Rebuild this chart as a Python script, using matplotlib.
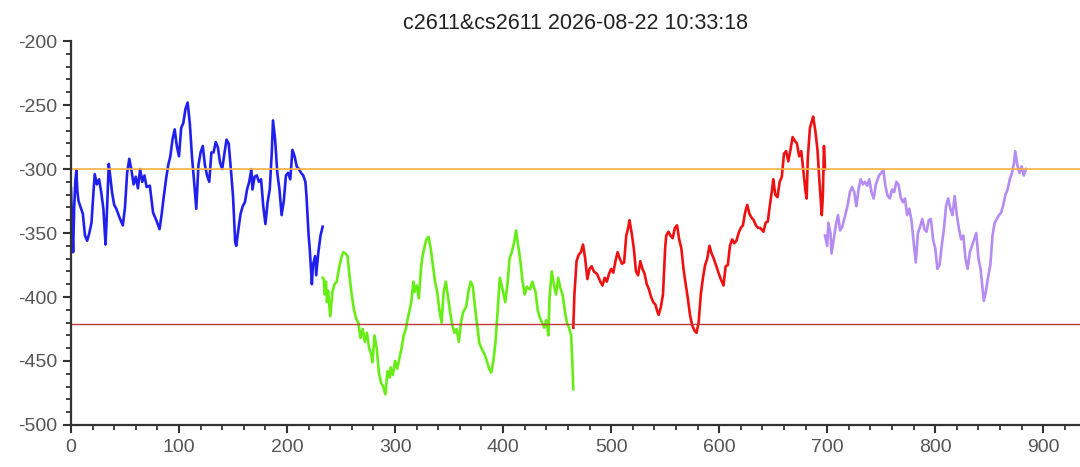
import matplotlib
matplotlib.use("Agg")
import matplotlib.pyplot as plt
from matplotlib.ticker import MultipleLocator

plt.rcParams["font.family"] = ["Liberation Sans", "DejaVu Sans"]
plt.rcParams["axes.unicode_minus"] = False

TITLE = "c2611&cs2611 2026-08-22 10:33:18"
UPPER = -300
LOWER = -421

# spread series, split in four coloured pieces
blue_x = [0, 1, 2, 3, 4, 5, 6, 7, 9, 11, 13, 15, 17, 19, 21, 22, 24, 26, 28, 30,
          32, 33, 35, 36, 38, 40, 42, 45, 48, 50, 52, 54, 56, 58, 60, 62, 64, 66,
          68, 70, 73, 76, 79, 82, 84, 86, 88, 90, 92, 94, 96, 98, 100, 102, 104,
          106, 108, 110, 112, 114, 116, 118, 120, 122, 124, 126, 128, 130, 132,
          134, 136, 138, 140, 142, 144, 146, 148, 150, 152, 153, 155, 157, 159,
          161, 163, 165, 167, 168, 170, 172, 174, 176, 178, 180, 182, 184, 186,
          187, 189, 191, 193, 195, 197, 199, 201, 203, 205, 207, 209, 211, 213,
          215, 217, 218, 220, 221, 223, 224, 226, 227, 229, 231, 233]
blue_y = [-315, -340, -365, -330, -310, -301, -318, -325, -330, -335, -352, -356,
          -350, -342, -316, -304, -312, -308, -318, -331, -359, -340, -296, -303,
          -318, -328, -331, -338, -344, -330, -303, -292, -301, -312, -306, -315,
          -300, -310, -305, -314, -313, -334, -340, -347, -335, -321, -308, -297,
          -290, -277, -269, -282, -290, -268, -264, -253, -248, -264, -290, -310,
          -331, -297, -287, -282, -297, -305, -310, -287, -287, -279, -283, -295,
          -300, -288, -277, -280, -300, -321, -357, -360, -347, -335, -329, -326,
          -316, -310, -300, -316, -306, -305, -310, -308, -329, -343, -326, -316,
          -285, -262, -277, -303, -316, -336, -325, -305, -303, -308, -285, -290,
          -298, -300, -303, -305, -310, -321, -352, -362, -390, -375, -368, -383,
          -365, -352, -345]

green_x = [233, 234, 235, 236, 237, 238, 240, 242, 244, 246, 248, 250, 252, 254,
           256, 258, 260, 262, 264, 266, 268, 270, 272, 274, 276, 278, 279, 281,
           283, 285, 287, 289, 291, 293, 295, 296, 298, 300, 302, 304, 306, 308,
           310, 311, 313, 315, 317, 318, 320, 322, 324, 325, 327, 329, 331, 333,
           335, 337, 339, 341, 343, 345, 347, 349, 351, 353, 355, 357, 359, 361,
           363, 366, 368, 370, 372, 374, 376, 378, 381, 383, 385, 387, 389, 391,
           393, 395, 397, 399, 402, 404, 406, 408, 410, 412, 414, 416, 418, 420,
           422, 425, 427, 430, 432, 434, 436, 438, 440, 442, 443, 445, 447, 449,
           451, 453, 455, 457, 459, 461, 463, 464, 465]
green_y = [-385, -386, -398, -388, -404, -395, -415, -396, -390, -388, -378, -370,
           -365, -366, -368, -385, -399, -410, -417, -420, -432, -425, -435, -428,
           -440, -445, -451, -430, -440, -459, -467, -470, -476, -458, -463, -455,
           -461, -450, -456, -448, -440, -430, -425, -420, -412, -404, -388, -396,
           -391, -401, -378, -370, -362, -355, -353, -362, -375, -388, -396, -410,
           -420, -396, -388, -400, -412, -422, -428, -425, -435, -420, -412, -407,
           -395, -388, -392, -408, -422, -436, -442, -445, -450, -456, -459, -450,
           -435, -410, -385, -392, -404, -390, -370, -365, -358, -348, -360, -372,
           -388, -398, -392, -394, -388, -396, -410, -416, -420, -424, -418, -430,
           -400, -380, -390, -398, -385, -393, -398, -410, -420, -424, -430, -450,
           -472]

red_x = [465, 466, 468, 470, 472, 474, 476, 478, 480, 482, 484, 487, 490, 492,
         494, 496, 498, 500, 502, 504, 506, 508, 510, 512, 514, 516, 517, 519,
         521, 523, 525, 527, 529, 531, 533, 535, 537, 539, 541, 543, 544, 546,
         548, 550, 551, 553, 555, 557, 559, 561, 563, 565, 567, 569, 571, 573,
         575, 577, 579, 581, 583, 585, 587, 589, 591, 593, 595, 597, 599, 601,
         604, 606, 608, 610, 612, 614, 616, 618, 620, 622, 624, 626, 628, 630,
         632, 634, 636, 638, 641, 643, 645, 647, 649, 650, 652, 654, 656, 658,
         660, 662, 664, 666, 668, 670, 672, 674, 676, 678, 680, 681, 682, 684,
         686, 687, 689, 691, 693, 695, 696, 697, 698]
red_y = [-424, -398, -372, -367, -365, -359, -370, -386, -378, -376, -380, -382,
         -388, -391, -385, -388, -382, -378, -381, -372, -365, -370, -374, -373,
         -352, -345, -340, -350, -362, -380, -383, -372, -378, -382, -390, -394,
         -400, -404, -406, -412, -414, -408, -398, -362, -352, -349, -352, -354,
         -346, -344, -355, -362, -378, -390, -401, -414, -422, -426, -428, -420,
         -398, -385, -375, -370, -360, -366, -370, -375, -380, -385, -391, -376,
         -375, -360, -355, -358, -356, -350, -346, -344, -334, -328, -335, -338,
         -340, -344, -346, -346, -349, -342, -341, -328, -316, -308, -320, -322,
         -310, -306, -288, -286, -294, -285, -275, -278, -280, -290, -286, -302,
         -318, -323, -292, -268, -262, -259, -270, -285, -312, -336, -320, -282,
         -300]

purple_x = [698, 700, 701, 703, 704, 706, 708, 710, 712, 714, 717, 719, 721, 723,
            725, 727, 729, 731, 733, 735, 737, 739, 741, 743, 745, 748, 750, 752,
            754, 756, 758, 760, 762, 764, 766, 768, 770, 772, 774, 776, 778, 780,
            782, 784, 786, 788, 790, 792, 794, 796, 798, 800, 802, 804, 806, 808,
            810, 812, 814, 816, 818, 820, 822, 824, 826, 828, 830, 832, 834, 836,
            838, 840, 842, 844, 845, 847, 849, 851, 853, 855, 857, 859, 861, 863,
            865, 867, 869, 871, 873, 874, 876, 878, 880, 882, 884]
purple_y = [-352, -360, -342, -350, -366, -355, -344, -336, -348, -345, -335,
            -328, -318, -314, -318, -329, -316, -308, -312, -310, -313, -308,
            -318, -323, -312, -305, -303, -301, -314, -321, -323, -316, -318,
            -310, -312, -322, -326, -323, -336, -331, -340, -357, -373, -350,
            -345, -339, -347, -349, -340, -339, -355, -362, -378, -375, -360,
            -347, -329, -323, -331, -336, -321, -336, -347, -355, -352, -370,
            -378, -365, -360, -355, -350, -370, -378, -395, -403, -395, -384,
            -375, -352, -342, -339, -336, -334, -328, -320, -316, -308, -303,
            -295, -286, -297, -303, -298, -305, -300]

pieces = [
    (blue_x, blue_y, "#2020ee"),
    (green_x, green_y, "#66ee14"),
    (red_x, red_y, "#ee1111"),
    (purple_x, purple_y, "#b48cf2"),
]

fig = plt.figure(figsize=(10.8, 4.67), dpi=100)
ax = fig.add_axes([0.0657, 0.09, 0.9343, 0.822])

for xs, ys, col in pieces:
    ax.plot(xs, ys, color=col, lw=1.9)

ax.axhline(UPPER, color="#f5b042", lw=1.2)
ax.axhline(LOWER, color="#c03a3a", lw=1.0)

ax.set_xlim(0, 934)
ax.set_ylim(-500, -200)
ax.xaxis.set_major_locator(MultipleLocator(100))
ax.xaxis.set_minor_locator(MultipleLocator(20))
ax.yaxis.set_major_locator(MultipleLocator(50))
ax.yaxis.set_minor_locator(MultipleLocator(10))

for side in ["top", "right"]:
    ax.spines[side].set_visible(False)
for side in ["left", "bottom"]:
    ax.spines[side].set_color("#333333")
    ax.spines[side].set_linewidth(1.6)

ax.tick_params(which="major", length=6, width=1.5, color="#333333",
               labelsize=14, labelcolor="#555555", pad=4)
ax.tick_params(which="minor", length=3.5, width=1.3, color="#333333")

ax.set_title(TITLE, fontsize=15.5, color="#222222", pad=9)

fig.savefig("out.png", dpi=100)
